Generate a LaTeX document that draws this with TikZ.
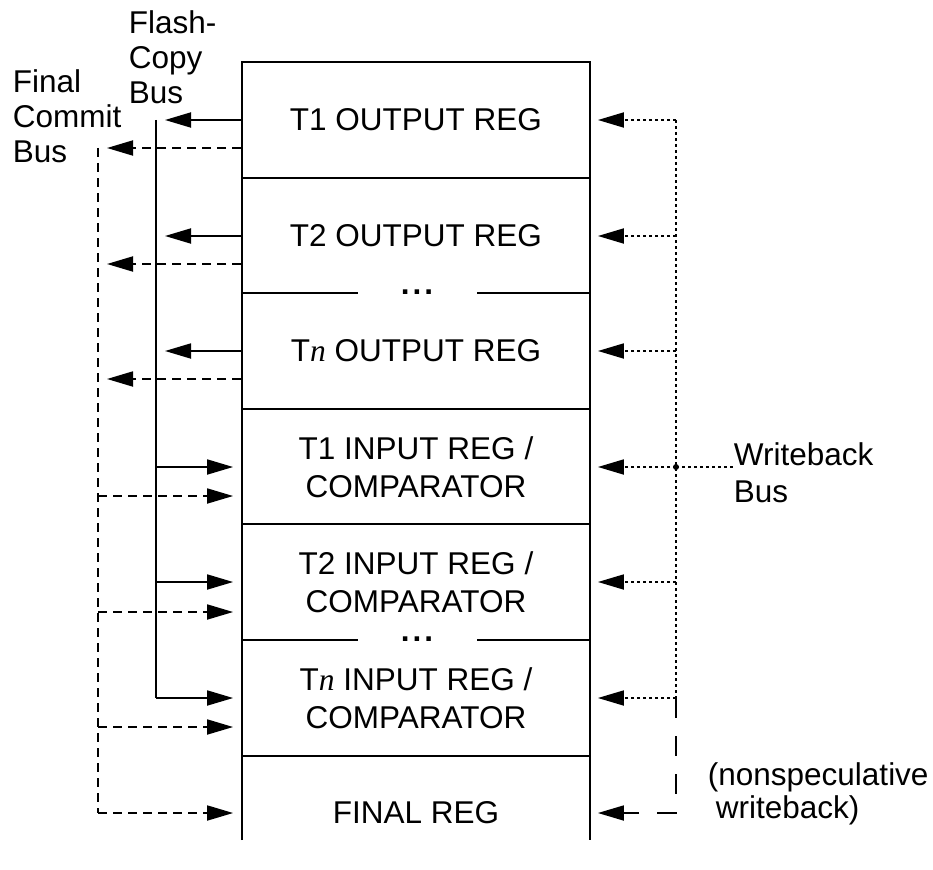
\documentclass[tikz,border=0pt]{standalone}
\usepackage{fontspec}
\setmainfont{Liberation Sans}
\newfontfamily\nfont{Liberation Serif}
\usepackage{tikz}
\usetikzlibrary{arrows.meta}

\newcommand{\Tn}{T{\nfont\itshape n}}

\begin{document}
\begin{tikzpicture}[x=1pt,y=-1pt,line width=1.8pt,
	every node/.style={font=\fontsize{31.5}{38}\selectfont,inner sep=0pt},
	reg/.style={minimum width=348pt,minimum height=115.7pt,align=center},
	lbl/.style={align=left,anchor=north west},
	commit/.style={dash pattern=on 9pt off 6pt},
	wback/.style={dash pattern=on 3pt off 3pt},
	nonspec/.style={dash pattern=on 20pt off 18pt},
	>={Triangle[length=26pt,width=15pt]}]
		\useasboundingbox (0,0) rectangle (933,869);
		% register file
		\draw[line width=2pt] (242,840) -- (242,62) -- (590,62) -- (590,840);
		\draw[line width=2pt] (242,178) -- (590,178)
		(242,293) -- (358,293) (477,293) -- (590,293)
		(242,409) -- (590,409)
		(242,524) -- (590,524)
		(242,640) -- (358,640) (477,640) -- (590,640)
		(242,756) -- (590,756);
		\node (dotsA) at (417,292) {\textbf{.\hspace{3pt}.\hspace{3pt}.}};
		\node (dotsB) at (417,639) {\textbf{.\hspace{3pt}.\hspace{3pt}.}};
		%
		\node[reg] (r1) at (416,120) {T1 OUTPUT REG};
		\node[reg] (r2) at (416,236) {T2 OUTPUT REG};
		\node[reg] (r3) at (416,351) {\Tn\ OUTPUT REG};
		\node[reg] (r4) at (416,467) {T1 INPUT REG /\\COMPARATOR};
		\node[reg] (r5) at (416,582) {T2 INPUT REG /\\COMPARATOR};
		\node[reg] (r6) at (416,698) {\Tn\ INPUT REG /\\COMPARATOR};
		\node[reg] (r7) at (416,813) {FINAL REG};
		%
		\coordinate (k1) at ([yshift=-28pt]r1.west);
		\coordinate (k2) at ([yshift=-28pt]r2.west);
		\coordinate (k3) at ([yshift=-28pt]r3.west);
		\coordinate (k4) at ([yshift=-29pt]r4.west);
		\coordinate (k5) at ([yshift=-30pt]r5.west);
		\coordinate (k6) at ([yshift=-29pt]r6.west);
		% buses
		\coordinate (fc) at (156,120);
		\coordinate (fcEnd) at (156,698);
		\coordinate (fb) at (98,148);
		\coordinate (wb) at (676,120);
		\coordinate (wbEnd) at (676,698);
		\coordinate (wbTap) at (676,467);
		%
		\node[lbl,font=\fontsize{31.5}{35}\selectfont] (fcLabel) at (128,10) {Flash-\\Copy\\Bus};
		\node[lbl,font=\fontsize{31.5}{35}\selectfont] (fbLabel) at (12,69) {Final\\Commit\\Bus};
		\node[lbl,font=\fontsize{31.5}{37}\selectfont] (wbLabel) at (733,442) {Writeback\\Bus};
		\node[lbl,font=\fontsize{31.5}{33}\selectfont] (nsLabel) at (707,762) {(nonspeculative\\\hspace*{8pt}writeback)};
		%
		\draw (fc) -- (fcEnd);
		\draw[commit] (fb) -- (fb |- r7.west);
		\draw[wback] (wb) -- (wbEnd);
		\draw[wback] (wbTap) -- (wbTap -| wbLabel.west);
		\fill (wbTap) circle (3pt);
		%
		\path[->]
		% flash-copy arrows
		(r1.west) edge[shorten >=9pt] (r1.west -| fc)
		(r2.west) edge[shorten >=9pt] (r2.west -| fc)
		(r3.west) edge[shorten >=9pt] (r3.west -| fc)
		(r4.west -| fc) edge[shorten >=8pt] (r4.west)
		(r5.west -| fc) edge[shorten >=8pt] (r5.west)
		(r6.west -| fc) edge[shorten >=8pt] (r6.west)
		% final commit arrows
		(k1) edge[commit,shorten >=9pt] (k1 -| fb)
		(k2) edge[commit,shorten >=9pt] (k2 -| fb)
		(k3) edge[commit,shorten >=9pt] (k3 -| fb)
		(k4 -| fb) edge[commit,shorten >=8pt] (k4)
		(k5 -| fb) edge[commit,shorten >=8pt] (k5)
		(k6 -| fb) edge[commit,shorten >=8pt] (k6)
		(fb |- r7.west) edge[commit,shorten >=8pt] (r7.west)
		% writeback arrows
		(r1.east -| wb) edge[wback,shorten >=7pt] (r1.east)
		(r2.east -| wb) edge[wback,shorten >=7pt] (r2.east)
		(r3.east -| wb) edge[wback,shorten >=7pt] (r3.east)
		(r4.east -| wb) edge[wback,shorten >=7pt] (r4.east)
		(r5.east -| wb) edge[wback,shorten >=7pt] (r5.east)
		(r6.east -| wb) edge[wback,shorten >=7pt] (r6.east);
		\draw[->,nonspec,shorten >=7pt] (wbEnd) -- (wbEnd |- r7.east) -- (r7.east);
\end{tikzpicture}
\end{document}
